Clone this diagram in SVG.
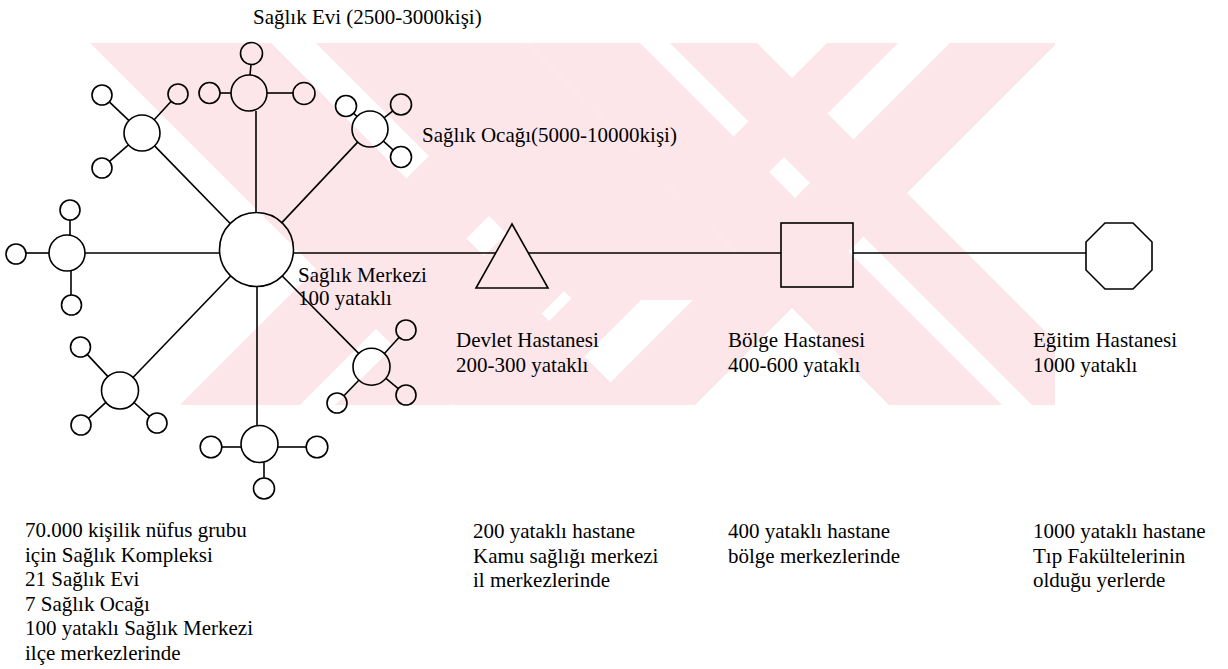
<svg xmlns="http://www.w3.org/2000/svg" width="1228" height="669" viewBox="0 0 1228 669">
<style>
.t{font-family:"Liberation Serif","Times New Roman",serif;font-size:21px;fill:#000}
.s{fill:none;stroke:#000;stroke-width:1.6}
.wm{fill:#fde6ea}
</style>
<defs><clipPath id="wmclip"><rect x="88" y="43" width="967" height="362"/></clipPath></defs>
<rect width="1228" height="669" fill="#fff"/>
<g id="watermark" clip-path="url(#wmclip)">
<polygon class="wm" points="90,43 271,43 633,405 452,405"/>
<polygon class="wm" points="316,43 527,43 784,300 573,300"/>
<polygon class="wm" points="180,405 300,405 605,100 485,100"/>
<polygon class="wm" points="335,405 450,405 705,150 590,150"/>
<polygon class="wm" points="527,43 640,43 1002,405 889,405"/>
<polygon class="wm" points="670,43 757,43 1119,405 1032,405"/>
<polygon class="wm" points="827,43 898,43 536,405 465,405"/>
<polygon class="wm" points="950,43 1057,43 695,405 588,405"/>
</g>
<g id="connectors" class="s">
<line x1="256" y1="212.5" x2="256" y2="111"/>
<line x1="230.2" y1="223.5" x2="154.6" y2="145.9"/>
<line x1="281.4" y1="223.1" x2="357.7" y2="142.1"/>
<line x1="85" y1="253" x2="219" y2="253"/>
<line x1="230.4" y1="276.2" x2="132.5" y2="378"/>
<line x1="257" y1="286.5" x2="257" y2="425.5"/>
<line x1="282" y1="275.8" x2="359.1" y2="353.9"/>
<line x1="293" y1="253" x2="496" y2="253"/>
<line x1="528" y1="253" x2="781" y2="253"/>
<line x1="853" y1="253" x2="1086" y2="253"/>
<line x1="220" y1="93" x2="231" y2="93"/>
<line x1="267" y1="93" x2="293" y2="93"/>
<line x1="251" y1="64.5" x2="250" y2="75"/>
<line x1="129" y1="120.6" x2="109.3" y2="101.9"/>
<line x1="154.2" y1="119.8" x2="171.2" y2="101.3"/>
<line x1="128.5" y1="144.8" x2="109.5" y2="161.4"/>
<line x1="357" y1="116.5" x2="353.2" y2="112.9"/>
<line x1="384.1" y1="117.8" x2="393.1" y2="110.7"/>
<line x1="383.4" y1="141.1" x2="393.6" y2="150.3"/>
<line x1="49" y1="253" x2="26" y2="253"/>
<line x1="70" y1="220" x2="70" y2="235.5"/>
<line x1="71" y1="271" x2="71" y2="295"/>
<line x1="108" y1="376.6" x2="87.2" y2="354.4"/>
<line x1="106.4" y1="401.8" x2="88.5" y2="418.4"/>
<line x1="133.4" y1="402" x2="149.5" y2="416.3"/>
<line x1="222" y1="447" x2="241" y2="447"/>
<line x1="278" y1="447" x2="306" y2="447"/>
<line x1="264" y1="462.5" x2="264" y2="478"/>
<line x1="384" y1="354" x2="399.2" y2="337.3"/>
<line x1="359.3" y1="379.7" x2="343.9" y2="395.8"/>
<line x1="385.6" y1="378.1" x2="398.3" y2="388.6"/>
</g>
<g id="saglik-evi-label"><text class="t" x="253" y="24">Sağlık Evi (2500-3000kişi)</text></g>
<g id="ocak-top" class="s">
<circle cx="249" cy="93" r="18"/>
<circle cx="251.5" cy="53.5" r="11"/>
<circle cx="209.5" cy="93" r="10.5"/>
<circle cx="304" cy="93.5" r="11"/>
</g>
<g id="ocak-upper-left" class="s">
<circle cx="142" cy="133" r="18"/>
<circle cx="102" cy="95" r="10"/>
<circle cx="178" cy="94" r="10"/>
<circle cx="102" cy="168" r="10"/>
</g>
<g id="ocak-upper-right" class="s">
<circle cx="370" cy="129" r="18"/>
<circle cx="346" cy="106" r="10.5"/>
<circle cx="401" cy="104.5" r="10.5"/>
<circle cx="401" cy="157" r="10.5"/>
</g>
<g id="ocak-left" class="s">
<circle cx="67" cy="253" r="18"/>
<circle cx="16" cy="254" r="10"/>
<circle cx="70" cy="210" r="10"/>
<circle cx="71.5" cy="305" r="10"/>
</g>
<g id="ocak-lower-left" class="s">
<circle cx="120" cy="390.5" r="18.5"/>
<circle cx="80.5" cy="347" r="10"/>
<circle cx="81" cy="425" r="10"/>
<circle cx="157" cy="423" r="10"/>
</g>
<g id="ocak-bottom" class="s">
<circle cx="259.5" cy="444" r="18.5"/>
<circle cx="211" cy="447" r="10.8"/>
<circle cx="317" cy="447" r="10.8"/>
<circle cx="264" cy="488.5" r="10.5"/>
</g>
<g id="ocak-lower-right" class="s">
<circle cx="371.5" cy="366.7" r="18.5"/>
<circle cx="406" cy="330" r="10"/>
<circle cx="337" cy="403" r="10"/>
<circle cx="406" cy="395" r="10"/>
</g>
<g id="ocak-label"><text class="t" x="422" y="142">Sağlık Ocağı(5000-10000kişi)</text></g>
<g id="saglik-merkezi">
<circle class="s" cx="256.5" cy="249.5" r="37"/>
<text class="t" x="298" y="282">Sağlık Merkezi</text>
<text class="t" x="298" y="305">100 yataklı</text>
</g>
<g id="devlet-hastanesi">
<polygon class="s" points="512,224 548,288 476,288"/>
<text class="t" x="456" y="347">Devlet Hastanesi</text>
<text class="t" x="456" y="372">200-300 yataklı</text>
</g>
<g id="bolge-hastanesi">
<rect class="s" x="781" y="223" width="72" height="64"/>
<text class="t" x="728" y="347">Bölge Hastanesi</text>
<text class="t" x="728" y="372">400-600 yataklı</text>
</g>
<g id="egitim-hastanesi">
<polygon class="s" points="1105,223 1133,223 1152,242 1152,270 1133,289 1105,289 1086,270 1086,242"/>
<text class="t" x="1033" y="347">Eğitim Hastanesi</text>
<text class="t" x="1033" y="372">1000 yataklı</text>
</g>
<g id="note-complex">
<text class="t" x="25" y="537">70.000 kişilik nüfus grubu</text>
<text class="t" x="25" y="561.6">için Sağlık Kompleksi</text>
<text class="t" x="25" y="586.2">21 Sağlık Evi</text>
<text class="t" x="25" y="610.8">7 Sağlık Ocağı</text>
<text class="t" x="25" y="635.4">100 yataklı Sağlık Merkezi</text>
<text class="t" x="25" y="660">ilçe merkezlerinde</text>
</g>
<g id="note-devlet">
<text class="t" x="473" y="538">200 yataklı hastane</text>
<text class="t" x="473" y="562.6">Kamu sağlığı merkezi</text>
<text class="t" x="473" y="587.2">il merkezlerinde</text>
</g>
<g id="note-bolge">
<text class="t" x="728" y="538">400 yataklı hastane</text>
<text class="t" x="728" y="562.6">bölge merkezlerinde</text>
</g>
<g id="note-egitim">
<text class="t" x="1033" y="538">1000 yataklı hastane</text>
<text class="t" x="1033" y="562.6">Tıp Fakültelerinin</text>
<text class="t" x="1033" y="587.2">olduğu yerlerde</text>
</g>
</svg>
